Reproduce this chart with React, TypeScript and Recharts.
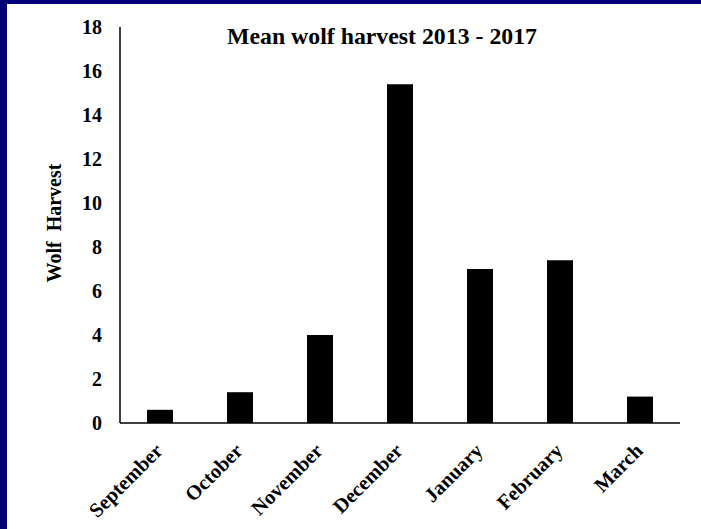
import React from "react";
import { BarChart, Bar, XAxis, YAxis } from "recharts";

const months = ["September", "October", "November", "December", "January", "February", "March"];
const harvest = [0.6, 1.4, 4.0, 15.4, 7.0, 7.4, 1.2];
const yTicks = [0, 2, 4, 6, 8, 10, 12, 14, 16, 18];

const data = months.map((month, i) => ({ month, harvest: harvest[i] }));

const SERIF = "'Liberation Serif', 'Times New Roman', serif";
const NAVY = "#000078";

// month names are drawn slanted, ending just under each bar
const MonthTick = ({ x, y, payload }: any) => (
  <g transform={`translate(${x + 4},${y + 21})`}>
    <text
      x={0}
      y={0}
      textAnchor="end"
      transform="rotate(-45)"
      fill="#000"
      fontFamily={SERIF}
      fontWeight="bold"
      fontSize={20.5}
    >
      {payload.value}
    </text>
  </g>
);

const YLabel = () => (
  <text
    x={61}
    y={223}
    textAnchor="middle"
    transform="rotate(-90 61 223)"
    fill="#000"
    fontFamily={SERIF}
    fontWeight="bold"
    fontSize={20}
  >
    {"Wolf\u00a0 Harvest"}
  </text>
);

export default function App() {
  React.useEffect(() => {
    document.documentElement.style.background = "#fff";
    document.body.style.margin = "0";
    document.body.style.background = "#fff";
  }, []);

  return (
    <div style={{ position: "fixed", left: 0, top: 0, width: 701, height: 529, background: "#fff", overflow: "hidden" }}>
      <div style={{ position: "absolute", left: 0, top: 0, width: 701, height: 4, background: NAVY }} />
      <div style={{ position: "absolute", left: 0, top: 0, width: 7, height: 529, background: NAVY }} />
      <div
        style={{
          position: "absolute",
          left: 182,
          top: 25,
          width: 400,
          textAlign: "center",
          fontFamily: SERIF,
          fontWeight: "bold",
          fontSize: 23.8,
          lineHeight: 1,
          color: "#000",
        }}
      >
        Mean wolf harvest 2013 - 2017
      </div>
      <div style={{ position: "absolute", left: 0, top: 0 }}>
        <BarChart
          width={701}
          height={529}
          data={data}
          margin={{ top: 27, right: 21, bottom: 0, left: 0 }}
          barSize={26}
          accessibilityLayer={false}
          style={{ outline: "none" }}
        >
          <XAxis
            dataKey="month"
            height={106}
            tickLine={false}
            axisLine={{ stroke: "#000", strokeWidth: 1.5 }}
            tick={<MonthTick />}
            interval={0}
          />
          <YAxis
            width={120}
            domain={[0, 18]}
            ticks={yTicks}
            tickLine={false}
            tickMargin={12}
            axisLine={{ stroke: "#000", strokeWidth: 1.5 }}
            tick={{ fill: "#000", fontFamily: SERIF, fontWeight: "bold", fontSize: 20 }}
            label={<YLabel />}
          />
          <Bar dataKey="harvest" fill="#000" isAnimationActive={false} />
        </BarChart>
      </div>
    </div>
  );
}
